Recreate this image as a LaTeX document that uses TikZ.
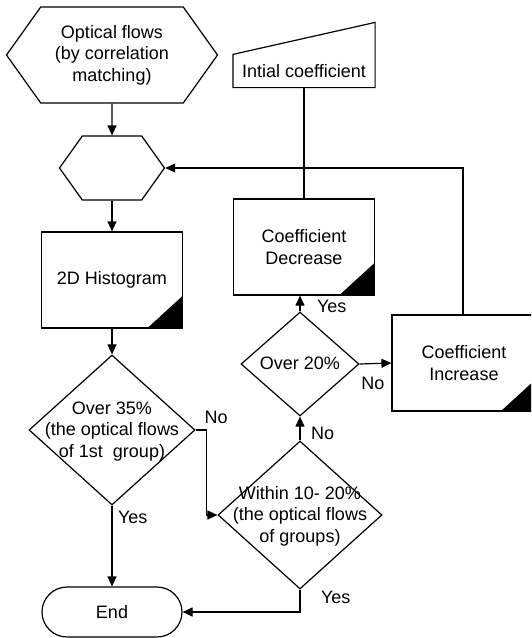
\documentclass[tikz,border=0pt]{standalone}
\usepackage{fontspec}
\setmainfont{Liberation Sans}
\usetikzlibrary{shapes.geometric,shapes.symbols,arrows.meta}
\tikzset{
	every node/.style={font=\fontsize{18}{21.5}\selectfont},
	hexbox/.style={signal, signal to=west and east, signal pointer angle=109, draw, align=center, inner sep=2pt},
	procbox/.style={rectangle, draw, align=center, minimum width=141pt, minimum height=96pt,
		path picture={\fill (path picture bounding box.south east) -- ++(-35pt,0pt) -- ++(35pt,32pt) -- cycle;}},
	decision/.style={diamond, draw, inner sep=0pt},
	endbox/.style={rectangle, draw, rounded corners=25pt, minimum width=140pt, minimum height=50pt},
	flow/.style={-{Triangle[length=10pt,width=9pt]}},
	lbl/.style={inner sep=3pt}
}
\newcommand{\dtext}[1]{\makebox[0pt]{\smash{\raisebox{-6pt}{\begin{tabular}{@{}c@{}}#1\end{tabular}}}}}
\begin{document}
\begin{tikzpicture}[x=1pt, y=-1pt, line width=1.2pt]
			\useasboundingbox (0,0) rectangle (532,638);
			\clip (0,0) rectangle (531,638);
			\node [hexbox, minimum width=211pt, minimum height=96pt] (flows) at (112,55) {Optical flows\\(by correlation\\matching)};
			\node [hexbox, minimum width=105pt, minimum height=64pt] (prep) at (112,168) {};
			\node [procbox] (hist) at (112,280) {2D Histogram};
			\node [decision, minimum width=166pt, minimum height=150pt] (over35) at (112,430) {\dtext{Over 35\%\\(the optical flows\\of 1st~ group)}};
			\node [endbox] (end) at (112,612) {End};
			\node [decision, minimum width=164pt, minimum height=148pt] (within) at (300,515) {\dtext{Within 10- 20\%\\(the optical flows\\of groups)}};
			\node [decision, minimum width=118pt, minimum height=104pt] (over20) at (300,364) {\dtext{Over 20\%}};
			\node [procbox] (dec) at (304,247) {Coefficient\\Decrease};
			\node [procbox, minimum width=144pt] (inc) at (464,363) {Coefficient\\Increase};
			\node [minimum width=141pt, minimum height=32pt] (init) at (304,71) {Intial coefficient};
			\draw (init.south west) -- (init.north west) -- ([yshift=32pt]init.north east) -- (init.south east) -- cycle;
			\draw [flow] (flows) -- (prep);
			\draw [flow] (prep) -- (hist);
			\draw [flow] (hist) -- (over35);
			\draw [flow] (over35) -- node [lbl, right=2.5pt, pos=0.15] {Yes} (end);
			\draw [flow] (over35.east) -- ++(11,0) node [lbl, xshift=9.5pt, yshift=13pt] {No} |- (within.west);
			\draw [flow] (within.south) |- node [lbl, right=17.5pt, pos=0.17] {Yes} (end.east);
			\draw [flow] (within) -- node [lbl, right=7.5pt, pos=0.28] {No} (over20);
			\draw [flow] (over20.north) -- node [lbl, right=13.5pt, pos=0.32] {Yes} (over20.north |- dec.south);
			\draw [flow] (over20.east) -- node [lbl, below=9.5pt, pos=0.42] {No} (inc.west);
			\draw (init.south) -- (init.south |- dec.north);
			\draw [flow] ([xshift=-1pt]inc.north) |- (prep.east);
		\end{tikzpicture}
\end{document}
